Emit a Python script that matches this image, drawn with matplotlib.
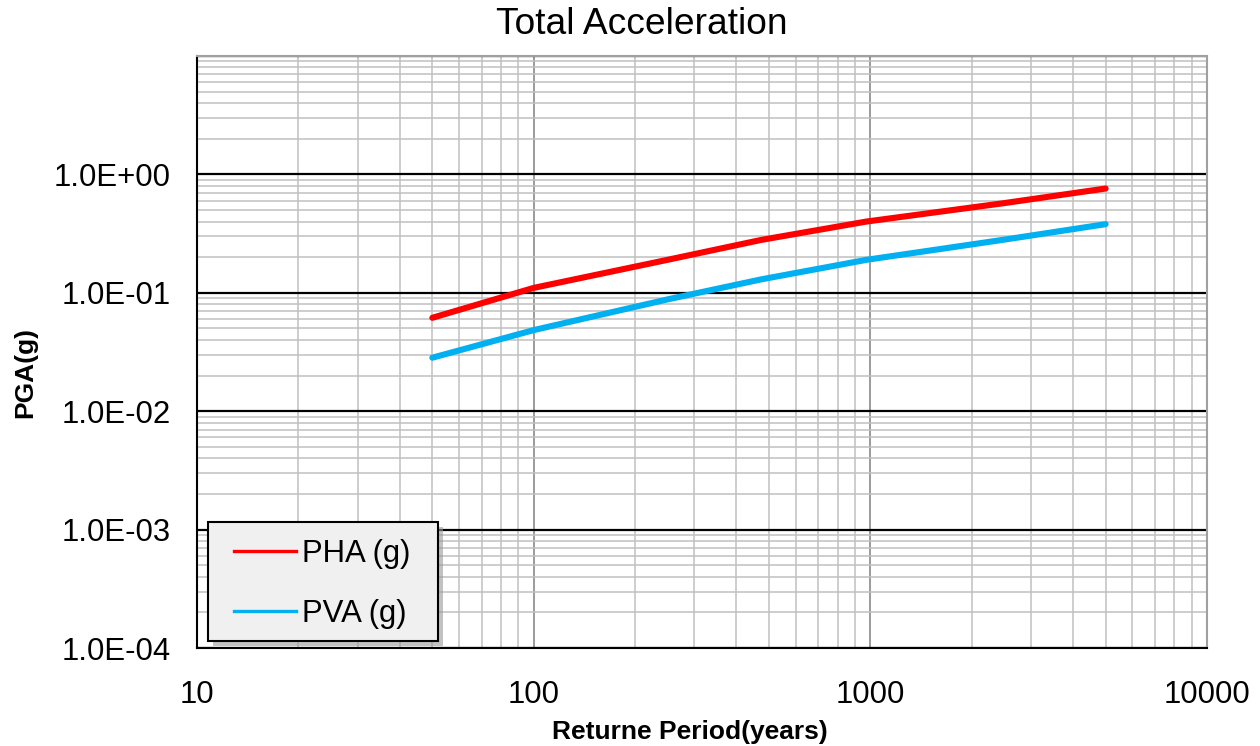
import matplotlib
matplotlib.use("Agg")
import matplotlib.pyplot as plt
from matplotlib.ticker import LogLocator, FuncFormatter, NullFormatter
from matplotlib.lines import Line2D
from matplotlib.patches import Rectangle

plt.rcParams['font.family'] = ['Liberation Sans', 'DejaVu Sans']

# Data
return_period = [50, 100, 250, 475, 975, 2475, 5000]
pha = [0.0615, 0.110, 0.19, 0.28, 0.40, 0.57, 0.76]
pva = [0.0283, 0.0484, 0.088, 0.13, 0.19, 0.28, 0.38]
series_labels = ["PHA (g)", "PVA (g)"]
series_colors = ['#ff0000', '#00b0f0']
title = "Total Acceleration"
xlabel = "Returne Period(years)"
ylabel = "PGA(g)"

W, H = 1260, 746
fig = plt.figure(figsize=(W / 100, H / 100), dpi=100)
L, T, R, B = 197, 56, 1207, 648
ax = fig.add_axes([L / W, (H - B) / H, (R - L) / W, (B - T) / H])

ax.plot(return_period, pha, color=series_colors[0], lw=4.4, solid_capstyle='round', zorder=5)
ax.plot(return_period, pva, color=series_colors[1], lw=4.4, solid_capstyle='round', zorder=5)

ax.set_xscale('log')
ax.set_yscale('log')
ax.set_xlim(10, 10000)
ax.set_ylim(1e-4, 10)

ax.xaxis.set_major_locator(LogLocator(base=10, numticks=10))
ax.xaxis.set_minor_locator(LogLocator(base=10, subs=range(2, 10), numticks=100))
ax.yaxis.set_major_locator(LogLocator(base=10, numticks=10))
ax.yaxis.set_minor_locator(LogLocator(base=10, subs=range(2, 10), numticks=100))
ax.xaxis.set_minor_formatter(NullFormatter())
ax.yaxis.set_minor_formatter(NullFormatter())
ax.xaxis.set_major_formatter(FuncFormatter(lambda v, p: f"{v:.0f}"))
ax.yaxis.set_major_formatter(FuncFormatter(lambda v, p: "" if v > 1.5 else f"{v:.1E}"))

ax.grid(which='minor', axis='both', color='#c0c0c0', lw=1.1)
ax.grid(which='major', axis='x', color='#808080', lw=1.1)
ax.grid(which='major', axis='y', color='#000000', lw=1.6)
ax.set_axisbelow(True)

ax.tick_params(which='both', length=0)
ax.tick_params(axis='y', labelsize=22.4, pad=19, colors='#000000')
ax.tick_params(axis='x', labelsize=22.4, pad=23)

for s in ['top', 'right']:
    ax.spines[s].set_color('#a0a0a0')
    ax.spines[s].set_linewidth(1.5)
for s in ['left', 'bottom']:
    ax.spines[s].set_color('#000000')
    ax.spines[s].set_linewidth(1.5)

# Legend box (frame + shadow) drawn in figure pixels
bx0, by0, bx1, by1 = 208, 522, 438, 641
shadow = Rectangle(((bx0 + 5) / W, 1 - (by1 + 5) / H), (bx1 - bx0) / W, (by1 - by0) / H,
                   transform=fig.transFigure, facecolor='#9a9a9a', edgecolor='none',
                   alpha=0.6, zorder=3)
frame = Rectangle((bx0 / W, 1 - by1 / H), (bx1 - bx0) / W, (by1 - by0) / H,
                  transform=fig.transFigure, facecolor='#f0f0f0', edgecolor='#000000',
                  lw=1.5, zorder=4)
fig.add_artist(shadow)
fig.add_artist(frame)

handles = [Line2D([], [], color=c, lw=2.4) for c in series_colors]
leg = fig.legend(handles, series_labels, loc='upper left',
                 bbox_to_anchor=(234 / W, 1 - 539 / H),
                 fontsize=22.4, frameon=False,
                 handlelength=2.0, handletextpad=0.2, labelspacing=0.96,
                 borderpad=0, borderaxespad=0)
leg.set_zorder(6)

fig.text(642 / W, 1 - 24 / H, title, ha='center', va='center', fontsize=26.7)
fig.text(690 / W, 1 - 732 / H, xlabel, ha='center', va='center', fontsize=19, fontweight='bold')
fig.text(25 / W, 1 - 373 / H, ylabel, ha='center', va='center', fontsize=19, fontweight='bold', rotation=90)

fig.savefig('out.png', dpi=100)
